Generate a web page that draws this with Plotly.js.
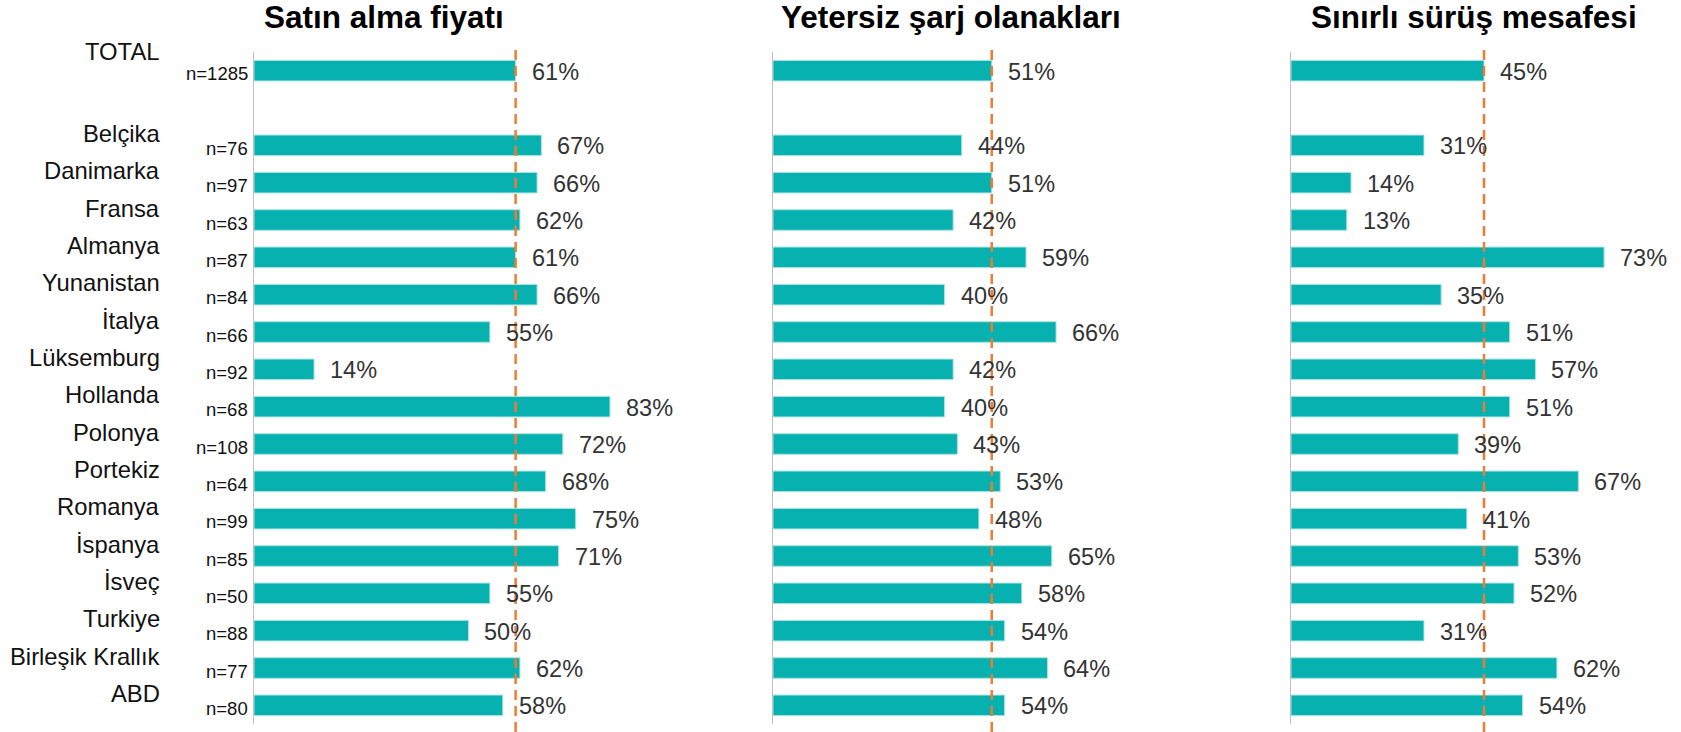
<!DOCTYPE html>
<html>
<head>
<meta charset="utf-8">
<script src="https://cdn.plot.ly/plotly-3.0.1.min.js"></script>
<style>
html,body{margin:0;padding:0;background:#fff;}
#chart{width:1681px;height:732px;}
</style>
</head>
<body>
<div id="chart"></div>
<script>
// ---- Data ----
const panelTitles = ["Satın alma fiyatı", "Yetersiz şarj olanakları", "Sınırlı sürüş mesafesi"];
const totalLabel = "TOTAL";
const totalN = 1285;
const countries = ["Belçika","Danimarka","Fransa","Almanya","Yunanistan","İtalya","Lüksemburg","Hollanda","Polonya","Portekiz","Romanya","İspanya","İsveç","Turkiye","Birleşik Krallık","ABD"];
const sampleN = [76,97,63,87,84,66,92,68,108,64,99,85,50,88,77,80];
const totalPrice = 61;
const priceValues = [67,66,62,61,66,55,14,83,72,68,75,71,55,50,62,58];
const totalCharging = 51;
const chargingValues = [44,51,42,59,40,66,42,40,43,53,48,65,58,54,64,54];
const totalRange = 45;
const rangeValues = [31,14,13,73,35,51,57,51,39,67,41,53,52,31,62,54];

// ---- Build ----
const W = 1681, H = 732, T = 52, B = 8;
const plotH = H - T - B;
const blank = " ";
const cats = [totalLabel, blank].concat(countries);
const panels = [
  {total: totalPrice, vals: priceValues, dom: [254, 640], titleX: 384},
  {total: totalCharging, vals: chargingValues, dom: [773, 1159], titleX: 951},
  {total: totalRange, vals: rangeValues, dom: [1291, 1677], titleX: 1474}
];
const teal = "#06B1AF";
const font = "Liberation Sans, Arial, sans-serif";

const data = [];
const annotations = [];
const shapes = [];
const layout = {
  width: W, height: H,
  margin: {l: 0, r: 0, t: T, b: B},
  paper_bgcolor: "#fff", plot_bgcolor: "rgba(0,0,0,0)",
  showlegend: false,
  bargap: 0.45,
  font: {family: font, color: "#000"},
  annotations: annotations,
  shapes: shapes
};

panels.forEach((p, i) => {
  const sfx = i === 0 ? "" : String(i + 1);
  const xa = "x" + sfx, ya = "y" + sfx;
  data.push({
    type: "bar", orientation: "h",
    x: [p.total, null].concat(p.vals),
    y: cats,
    xaxis: xa, yaxis: ya,
    marker: {color: teal, line: {color: "#a9e2e1", width: 1}},
    hoverinfo: "skip",
    cliponaxis: false
  });
  layout["xaxis" + sfx] = {
    domain: [p.dom[0] / W, p.dom[1] / W],
    range: [0, 90], anchor: ya,
    showgrid: false, zeroline: false, showticklabels: false, ticks: "", showline: false,
    fixedrange: true
  };
  layout["yaxis" + sfx] = {
    type: "category", categoryorder: "array", categoryarray: cats,
    range: [cats.length - 0.5, -0.5], anchor: xa,
    showgrid: false, zeroline: false, showticklabels: false, ticks: "",
    showline: true, linecolor: "#BFBFBF", linewidth: 1,
    fixedrange: true
  };
  // average dashed line
  shapes.push({
    type: "line", xref: xa, yref: "paper",
    x0: p.total, x1: p.total, y0: -B / plotH, y1: 1 + 6 / plotH,
    line: {color: "#ED7D31", width: 2.5, dash: "10px,6px"}
  });
  // title
  annotations.push({
    xref: "paper", yref: "paper", x: p.titleX / W, y: 1 + (T - 17) / plotH,
    xanchor: "center", yanchor: "middle", showarrow: false,
    text: "<b>" + panelTitles[i] + "</b>",
    font: {size: 31.5, family: font, color: "#000"}
  });
  // value labels
  const lblY = [totalLabel].concat(countries);
  const lblV = [p.total].concat(p.vals);
  lblY.forEach((c, k) => {
    annotations.push({
      xref: xa, yref: ya, x: lblV[k], y: c,
      xanchor: "left", yanchor: "middle", xshift: 14, yshift: -1,
      showarrow: false, text: lblV[k] + "%",
      font: {size: 23.5, family: font, color: "#333333"}
    });
  });
});

// row labels (country + n)
const rowNames = [totalLabel].concat(countries);
const rowN = [totalN].concat(sampleN);
rowNames.forEach((c, k) => {
  annotations.push({
    xref: "paper", yref: "y", x: 162 / W, y: c,
    xanchor: "right", yanchor: "middle", yshift: k === 0 ? 19 : 12,
    showarrow: false, text: c,
    font: {size: 23.8, family: font, color: "#111"}
  });
  annotations.push({
    xref: "paper", yref: "y", x: 250 / W, y: c,
    xanchor: "right", yanchor: "middle", yshift: -3,
    showarrow: false, text: "n=" + rowN[k],
    font: {size: 18.5, family: font, color: "#111"}
  });
});

Plotly.newPlot("chart", data, layout, {displayModeBar: false, staticPlot: true});
</script>
</body>
</html>
